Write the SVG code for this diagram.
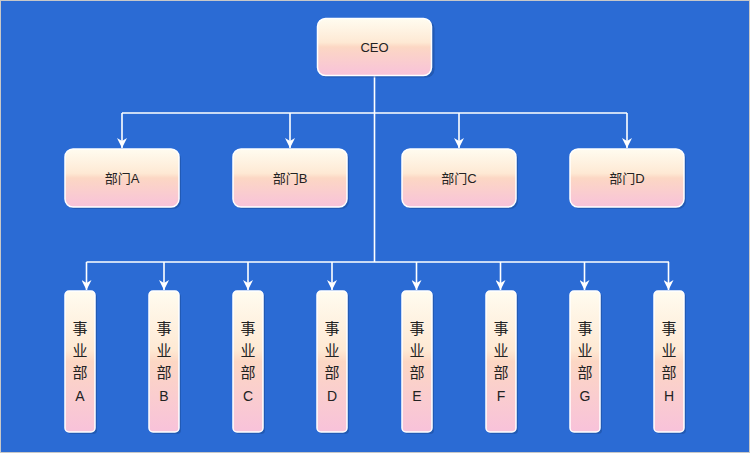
<svg xmlns="http://www.w3.org/2000/svg" width="750" height="453" viewBox="0 0 750 453">
<defs>
<linearGradient id="g" x1="0" y1="0" x2="0" y2="1">
<stop offset="0" stop-color="#FFFCF0"/>
<stop offset="0.42" stop-color="#FEE9D4"/>
<stop offset="0.5" stop-color="#FCD7C4"/>
<stop offset="1" stop-color="#F8C2DA"/>
</linearGradient>
<marker id="arr" viewBox="0 0 10 10" refX="10" refY="5" markerWidth="10" markerHeight="10" markerUnits="userSpaceOnUse" orient="auto">
<path d="M0,0 L10,5 L0,10 L3,5 Z" fill="#FFFFFF"/>
</marker>
<style>
.box{fill:url(#g);stroke:#FFFFFF;stroke-width:1.5}
.sh{fill:#1D4E9E;opacity:0.6}
.t{font-family:"Liberation Sans","Noto Sans CJK SC",sans-serif;font-size:13px;fill:#222222;text-anchor:middle}
.u{font-family:"Noto Sans CJK SC","Liberation Sans",sans-serif;font-size:15px;fill:#222222;text-anchor:middle}
.c{fill:none;stroke:#FFFFFF;stroke-width:1.6}
</style>
</defs>
<rect x="0" y="0" width="750" height="453" fill="#C8C8C8"/>
<rect x="1" y="1" width="748" height="451" fill="#2B6BD4"/>
<g id="connectors">
<path class="c" d="M374.5,76 V262"/>
<path class="c" d="M122,113 H627"/>
<path class="c" d="M122,113 V148" marker-end="url(#arr)"/>
<path class="c" d="M290,113 V148" marker-end="url(#arr)"/>
<path class="c" d="M459,113 V148" marker-end="url(#arr)"/>
<path class="c" d="M627,113 V148" marker-end="url(#arr)"/>
<path class="c" d="M86.5,262 H669"/>
<path class="c" d="M86.5,262 V290" marker-end="url(#arr)"/>
<path class="c" d="M164,262 V290" marker-end="url(#arr)"/>
<path class="c" d="M248,262 V290" marker-end="url(#arr)"/>
<path class="c" d="M332,262 V290" marker-end="url(#arr)"/>
<path class="c" d="M416.5,262 V290" marker-end="url(#arr)"/>
<path class="c" d="M500.5,262 V290" marker-end="url(#arr)"/>
<path class="c" d="M584.5,262 V290" marker-end="url(#arr)"/>
<path class="c" d="M668.5,262 V290" marker-end="url(#arr)"/>
</g>
<g id="ceo">
<rect class="sh" x="319.5" y="20.5" width="115" height="57" rx="8"/>
<rect class="box" x="317.5" y="18.5" width="114" height="57" rx="8"/>
<text class="t" x="374.5" y="51.5">CEO</text>
</g>
<g id="deptA">
<rect class="sh" x="67" y="151" width="114" height="58" rx="8"/>
<rect class="box" x="65" y="149" width="114" height="58" rx="8"/>
<text class="t" x="122" y="182.5">部门A</text>
</g>
<g id="deptB">
<rect class="sh" x="235" y="151" width="114" height="58" rx="8"/>
<rect class="box" x="233" y="149" width="114" height="58" rx="8"/>
<text class="t" x="290" y="182.5">部门B</text>
</g>
<g id="deptC">
<rect class="sh" x="404" y="151" width="114" height="58" rx="8"/>
<rect class="box" x="402" y="149" width="114" height="58" rx="8"/>
<text class="t" x="459" y="182.5">部门C</text>
</g>
<g id="deptD">
<rect class="sh" x="572" y="151" width="114" height="58" rx="8"/>
<rect class="box" x="570" y="149" width="114" height="58" rx="8"/>
<text class="t" x="627" y="182.5">部门D</text>
</g>
<g id="unitA">
<rect class="sh" x="67" y="293" width="30" height="141" rx="4"/>
<rect class="box" x="65" y="291" width="30" height="141" rx="4"/>
<text class="u" x="80" y="334">事</text><text class="u" x="80" y="356">业</text><text class="u" x="80" y="378">部</text><text class="t" x="80" y="401" style="font-size:14px">A</text>
</g>
<g id="unitB">
<rect class="sh" x="151" y="293" width="30" height="141" rx="4"/>
<rect class="box" x="149" y="291" width="30" height="141" rx="4"/>
<text class="u" x="164" y="334">事</text><text class="u" x="164" y="356">业</text><text class="u" x="164" y="378">部</text><text class="t" x="164" y="401" style="font-size:14px">B</text>
</g>
<g id="unitC">
<rect class="sh" x="235" y="293" width="30" height="141" rx="4"/>
<rect class="box" x="233" y="291" width="30" height="141" rx="4"/>
<text class="u" x="248" y="334">事</text><text class="u" x="248" y="356">业</text><text class="u" x="248" y="378">部</text><text class="t" x="248" y="401" style="font-size:14px">C</text>
</g>
<g id="unitD">
<rect class="sh" x="319" y="293" width="30" height="141" rx="4"/>
<rect class="box" x="317" y="291" width="30" height="141" rx="4"/>
<text class="u" x="332" y="334">事</text><text class="u" x="332" y="356">业</text><text class="u" x="332" y="378">部</text><text class="t" x="332" y="401" style="font-size:14px">D</text>
</g>
<g id="unitE">
<rect class="sh" x="404" y="293" width="30" height="141" rx="4"/>
<rect class="box" x="402" y="291" width="30" height="141" rx="4"/>
<text class="u" x="417" y="334">事</text><text class="u" x="417" y="356">业</text><text class="u" x="417" y="378">部</text><text class="t" x="417" y="401" style="font-size:14px">E</text>
</g>
<g id="unitF">
<rect class="sh" x="488" y="293" width="30" height="141" rx="4"/>
<rect class="box" x="486" y="291" width="30" height="141" rx="4"/>
<text class="u" x="501" y="334">事</text><text class="u" x="501" y="356">业</text><text class="u" x="501" y="378">部</text><text class="t" x="501" y="401" style="font-size:14px">F</text>
</g>
<g id="unitG">
<rect class="sh" x="572" y="293" width="30" height="141" rx="4"/>
<rect class="box" x="570" y="291" width="30" height="141" rx="4"/>
<text class="u" x="585" y="334">事</text><text class="u" x="585" y="356">业</text><text class="u" x="585" y="378">部</text><text class="t" x="585" y="401" style="font-size:14px">G</text>
</g>
<g id="unitH">
<rect class="sh" x="656" y="293" width="30" height="141" rx="4"/>
<rect class="box" x="654" y="291" width="30" height="141" rx="4"/>
<text class="u" x="669" y="334">事</text><text class="u" x="669" y="356">业</text><text class="u" x="669" y="378">部</text><text class="t" x="669" y="401" style="font-size:14px">H</text>
</g>
</svg>
